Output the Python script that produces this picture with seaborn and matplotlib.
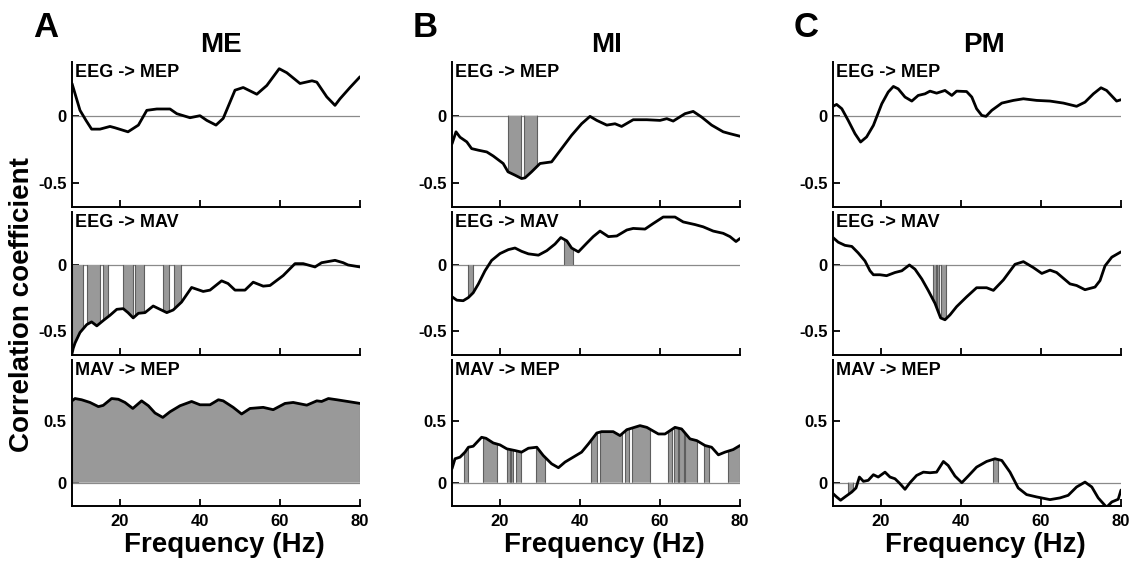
import matplotlib
matplotlib.use("Agg")
import matplotlib.pyplot as plt
from matplotlib.patches import Rectangle
import seaborn as sns

# ------------------------------------------------------------------
# Data: correlation coefficient vs. frequency for each condition and
# coupling; *_sig lists the frequency bands marked as significant.
# ------------------------------------------------------------------
conditions = ["ME", "MI", "PM"]
panel_letters = ["A", "B", "C"]
couplings = ["EEG -> MEP", "EEG -> MAV", "MAV -> MEP"]

# ME
me_eeg_mep_freq = [8, 10, 11.5, 12.9, 15, 17.5, 18.75, 22, 24.6, 26.7, 29.2, 32.5, 34.2, 37.5,
                   40, 41.7, 44, 45.8, 48.75, 50.8, 54.2, 56.7, 59.8, 61.7, 65, 68, 69.2, 71.7,
                   73.75, 75, 77.5, 80]
me_eeg_mep_rho = [0.24, 0.04, -0.035, -0.10, -0.10, -0.08, -0.09, -0.12, -0.07, 0.04, 0.05, 0.05,
                  0.015, -0.015, 0.0, -0.035, -0.07, -0.02, 0.19, 0.21, 0.16, 0.225, 0.35, 0.32,
                  0.24, 0.26, 0.25, 0.14, 0.077, 0.126, 0.21, 0.29]
me_eeg_mep_sig = []

me_eeg_mav_freq = [8, 8.3, 8.75, 10, 11.7, 12.9, 14.2, 15.8, 17.5, 19.2, 20.8, 22, 23.3, 24.6, 26.25,
                   28.3, 30, 31.7, 33.3, 35.4, 37.9, 40.8, 42.5, 45.4, 47, 48.75, 51.25, 53.3,
                   55.8, 57.5, 60.8, 63.75, 65.8, 68.75, 70.4, 73.75, 75.8, 77, 80]
me_eeg_mav_rho = [-0.67, -0.63, -0.59, -0.51, -0.45, -0.43, -0.46, -0.42, -0.38, -0.335, -0.33,
                  -0.36, -0.40, -0.365, -0.36, -0.31, -0.335, -0.36, -0.34, -0.28, -0.17, -0.20,
                  -0.19, -0.12, -0.14, -0.19, -0.19, -0.13, -0.16, -0.155, -0.08, 0.01, 0.01,
                  -0.015, 0.017, 0.035, 0.017, 0.0, -0.015]
me_eeg_mav_sig = [(8.0, 10.8), (11.8, 15.0), (15.8, 17.1), (20.8, 23.2), (23.75, 26.0),
                  (30.7, 32.25), (33.6, 35.2)]

me_mav_mep_freq = [8, 8.75, 10.4, 12.5, 14.6, 15.8, 17.9, 19.6, 21.25, 23.2, 25.4, 27.1, 28.75,
                   30.7, 32.5, 35, 37.9, 40, 42.5, 44.6, 45.8, 48.3, 50.4, 52.5, 55.8, 58.3,
                   61.25, 63.3, 66.7, 69.2, 70.4, 72.1, 74.2, 77.5, 80]
me_mav_mep_rho = [0.667, 0.686, 0.676, 0.654, 0.62, 0.63, 0.686, 0.68, 0.654, 0.605, 0.667,
                  0.627, 0.568, 0.532, 0.578, 0.627, 0.662, 0.635, 0.635, 0.676, 0.667, 0.614,
                  0.56, 0.605, 0.614, 0.595, 0.646, 0.654, 0.632, 0.667, 0.662, 0.686, 0.676,
                  0.659, 0.646]
me_mav_mep_sig = [(8.0, 80.0)]

# MI
mi_eeg_mep_freq = [8, 9, 10, 11.7, 12.9, 14.6, 16.7, 18.3, 20.8, 22, 23.75, 25.4, 26.25, 27.9, 30,
                   32.9, 35.4, 37.9, 40.4, 42.5, 44.2, 46.7, 48.75, 50.4, 53.3, 56.7, 60, 61.7,
                   63.3, 66.25, 68.3, 70.4, 72.9, 75.8, 77.5, 80]
mi_eeg_mep_rho = [-0.21, -0.12, -0.16, -0.195, -0.245, -0.257, -0.27, -0.30, -0.356, -0.418,
                  -0.443, -0.468, -0.463, -0.418, -0.356, -0.344, -0.245, -0.146, -0.06, -0.005,
                  -0.035, -0.07, -0.06, -0.08, -0.03, -0.03, -0.035, -0.022, -0.04, 0.015, 0.032,
                  -0.01, -0.07, -0.12, -0.134, -0.153]
mi_eeg_mep_sig = [(22.1, 25.2), (26.0, 29.2)]

mi_eeg_mav_freq = [8, 9.2, 10.8, 12.1, 13.3, 14.6, 16.25, 17.9, 20, 22.1, 23.75, 25.4, 27.1, 29.6,
                   31.7, 33.75, 35.2, 36.7, 37.9, 39.6, 41.7, 43.3, 45, 47.1, 49.2, 51.7, 53.3,
                   56.25, 58.3, 60.8, 63.75, 65.8, 68.75, 70.8, 73.3, 75.8, 77.5, 79, 80]
mi_eeg_mav_rho = [-0.24, -0.266, -0.27, -0.246, -0.21, -0.143, -0.044, 0.034, 0.086, 0.116, 0.128,
                  0.103, 0.084, 0.074, 0.108, 0.158, 0.207, 0.182, 0.128, 0.099, 0.165, 0.214,
                  0.256, 0.214, 0.219, 0.264, 0.276, 0.271, 0.313, 0.362, 0.362, 0.325, 0.305,
                  0.288, 0.256, 0.239, 0.214, 0.177, 0.2]
mi_eeg_mav_sig = [(11.9, 13.2), (36.0, 38.2)]

mi_mav_mep_freq = [8, 8.75, 10, 11.25, 12.1, 13.3, 15.4, 16.5, 18.3, 20, 21.7, 23.75, 25.4, 27.1,
                   29.2, 30.8, 32.9, 34.6, 36.25, 38.3, 40.4, 42.1, 44.2, 45.4, 48.3, 50, 51.7, 55,
                   56.7, 59.6, 61.25, 63.75, 65.4, 67.5, 69.2, 71.25, 72.9, 74.6, 76.25, 78.3, 80]
mi_mav_mep_rho = [0.114, 0.195, 0.208, 0.249, 0.289, 0.297, 0.37, 0.362, 0.324, 0.308, 0.276,
                  0.262, 0.249, 0.281, 0.289, 0.222, 0.154, 0.122, 0.168, 0.208, 0.249, 0.316,
                  0.405, 0.416, 0.416, 0.384, 0.432, 0.465, 0.451, 0.397, 0.397, 0.451, 0.438,
                  0.357, 0.343, 0.303, 0.289, 0.227, 0.249, 0.27, 0.303]
mi_mav_mep_sig = [(11.0, 12.1), (15.8, 19.2), (21.8, 22.4), (22.7, 23.3), (23.9, 25.2),
                  (29.0, 31.3), (42.7, 44.3), (44.9, 50.4), (51.3, 52.3), (53.0, 57.6),
                  (62.1, 63.1), (63.5, 64.4), (64.8, 66.0), (66.3, 69.2), (71.0, 72.3),
                  (77.1, 80.0)]

# PM
pm_eeg_mep_freq = [8, 8.9, 10.2, 11.8, 13.5, 14.9, 16.4, 18.1, 20.2, 21.8, 23.1, 24.3, 26, 27.7,
                   29.3, 31, 32.25, 33.9, 36, 37.7, 38.9, 41.4, 42.7, 43.9, 45.2, 46.25, 47.7,
                   50.2, 53.1, 55.6, 58.9, 62.25, 65.6, 68.9, 71, 73.1, 75, 76.4, 78.9, 80]
pm_eeg_mep_rho = [0.07, 0.084, 0.052, -0.035, -0.134, -0.196, -0.158, -0.072, 0.089, 0.176,
                  0.218, 0.2, 0.139, 0.109, 0.151, 0.163, 0.183, 0.168, 0.188, 0.151, 0.183,
                  0.18, 0.139, 0.052, 0.002, -0.005, 0.04, 0.094, 0.114, 0.126, 0.114, 0.109,
                  0.094, 0.07, 0.101, 0.163, 0.208, 0.188, 0.109, 0.119]
pm_eeg_mep_sig = []

pm_eeg_mav_freq = [8, 9.3, 11, 12.7, 14.3, 16, 17.25, 18.1, 19.75, 21.4, 23.5, 25.2, 27.1, 28.5,
                   30.2, 31.8, 33.5, 34.9, 36, 37.25, 38.9, 41.4, 43.9, 46.4, 48.1, 50.6, 53.5,
                   55.6, 58.1, 60.2, 62.25, 63.9, 67.25, 68.9, 71, 73.5, 74.75, 76, 77.7, 80]
pm_eeg_mav_rho = [0.207, 0.172, 0.148, 0.14, 0.091, 0.03, -0.044, -0.074, -0.074, -0.081,
                  -0.057, -0.044, 0.0, -0.032, -0.106, -0.192, -0.29, -0.40, -0.414, -0.377,
                  -0.315, -0.241, -0.172, -0.172, -0.192, -0.113, 0.005, 0.025, -0.02, -0.064,
                  -0.039, -0.057, -0.143, -0.155, -0.187, -0.167, -0.118, -0.007, 0.059, 0.099]
pm_eeg_mav_sig = [(32.9, 33.8), (34.0, 34.6), (34.9, 36.2)]

pm_mav_mep_freq = [8, 8.9, 9.9, 11, 12.7, 13.75, 14.6, 15.6, 16.8, 18.1, 19.3, 21, 22.25, 23.5,
                   24.75, 26, 27.25, 28.9, 30.6, 32.25, 33.9, 35.6, 36.8, 38.5, 40.2, 41.8, 43.9,
                   46.4, 48.5, 50.2, 52.25, 54.3, 56.4, 58.9, 62.25, 64.75, 66.8, 68.9, 71, 72.7,
                   74.3, 76.4, 77.7, 79.3, 80]
pm_mav_mep_rho = [-0.089, -0.116, -0.143, -0.116, -0.076, -0.043, 0.046, 0.011, 0.019, 0.065,
                  0.046, 0.086, 0.046, 0.032, -0.008, -0.054, 0.0, 0.059, 0.086, 0.081, 0.086,
                  0.173, 0.14, 0.054, 0.0, 0.054, 0.127, 0.173, 0.195, 0.181, 0.086, -0.043,
                  -0.097, -0.116, -0.138, -0.124, -0.103, -0.035, 0.005, -0.035, -0.124, -0.20,
                  -0.157, -0.135, -0.06]
pm_mav_mep_sig = [(11.8, 12.9), (47.9, 49.2)]

series = [
    [(me_eeg_mep_freq, me_eeg_mep_rho, me_eeg_mep_sig),
     (me_eeg_mav_freq, me_eeg_mav_rho, me_eeg_mav_sig),
     (me_mav_mep_freq, me_mav_mep_rho, me_mav_mep_sig)],
    [(mi_eeg_mep_freq, mi_eeg_mep_rho, mi_eeg_mep_sig),
     (mi_eeg_mav_freq, mi_eeg_mav_rho, mi_eeg_mav_sig),
     (mi_mav_mep_freq, mi_mav_mep_rho, mi_mav_mep_sig)],
    [(pm_eeg_mep_freq, pm_eeg_mep_rho, pm_eeg_mep_sig),
     (pm_eeg_mav_freq, pm_eeg_mav_rho, pm_eeg_mav_sig),
     (pm_mav_mep_freq, pm_mav_mep_rho, pm_mav_mep_sig)],
]

x_ticks = [20, 40, 60, 80]
row_ylims = [(-0.68, 0.40), (-0.68, 0.40), (-0.19, 1.0)]
row_yticks = [[-0.5, 0], [-0.5, 0], [0, 0.5]]

# ------------------------------------------------------------------
sns.set_style("ticks")
plt.rcParams["font.family"] = ["Liberation Sans", "DejaVu Sans"]
plt.rcParams["font.weight"] = "bold"
plt.rcParams["axes.unicode_minus"] = False
for key in ("text.color", "axes.labelcolor", "xtick.color", "ytick.color", "axes.edgecolor"):
    plt.rcParams[key] = "black"

W, H = 1138, 562
fig = plt.figure(figsize=(W / 100, H / 100), dpi=100)

col_left = [72, 452, 833]
col_width = 288
row_span = [(62, 207), (212, 355), (360, 506)]
title_x = [0.517, 0.538, 0.526]

SIG_FACE = "#999999"
SIG_EDGE = "#5e5e5e"


def shade_bands(ax, freq, rho, bands):
    """Fill the area under the curve only inside the given frequency bands."""
    if not bands:
        return
    area = ax.fill_between(freq, 0, rho)
    clip = area.get_paths()[0]
    area.remove()
    for lo, hi in bands:
        rect = Rectangle((lo, -2), hi - lo, 4, facecolor=SIG_FACE, edgecolor=SIG_EDGE,
                         linewidth=0.8, zorder=2)
        ax.add_patch(rect)
        rect.set_clip_path(clip, ax.transData)


for c in range(3):
    for r in range(3):
        top, bot = row_span[r]
        ax = fig.add_axes([col_left[c] / W, 1 - bot / H, col_width / W, (bot - top) / H])
        freq, rho, sig = series[c][r]

        ax.axhline(0, color="#8a8a8a", lw=0.9, zorder=1)
        shade_bands(ax, freq, rho, sig)
        sns.lineplot(x=freq, y=rho, ax=ax, color="black", lw=2.0, zorder=3)

        ax.set_xlim(8, 80)
        ax.set_ylim(*row_ylims[r])
        ax.set_xticks(x_ticks)
        ax.set_yticks(row_yticks[r], labels=[f"{t:g}" for t in row_yticks[r]])
        ax.tick_params(direction="in", length=5, width=1.3, labelsize=12, pad=4)
        sns.despine(ax=ax)
        for s in ("left", "bottom"):
            ax.spines[s].set_linewidth(1.4)
            ax.spines[s].set_color("black")
        ax.set_ylabel("")

        ax.text(0.012, 0.985, couplings[r], transform=ax.transAxes, ha="left", va="top",
                fontsize=13, zorder=4)

        if r < 2:
            ax.tick_params(labelbottom=False)
            ax.set_xlabel("")
        else:
            ax.tick_params(axis="x", pad=6)
            ax.set_xlabel("Frequency (Hz)", fontsize=20, fontweight="bold", labelpad=2, x=0.53)
        if r == 0:
            ax.set_title(conditions[c], fontsize=20, pad=7, x=title_x[c], fontweight="bold")

    fig.text((col_left[c] - 39) / W, 1 - 11 / H, panel_letters[c], fontsize=25,
             ha="left", va="top", fontweight="bold")

fig.text(22 / W, 1 - 305 / H, "Correlation coefficient", rotation=90, ha="center",
         va="center", fontsize=20, fontweight="bold")

fig.savefig("out.png", dpi=100)
